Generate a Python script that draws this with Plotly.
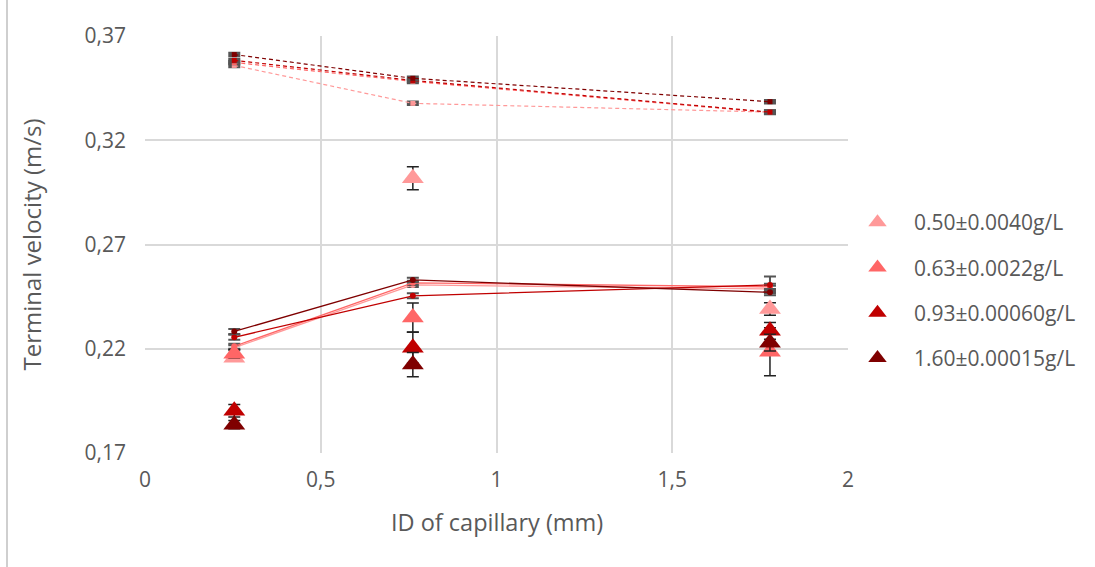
import plotly.graph_objects as go

# ---- data ----
capillary_id = [0.254, 0.762, 1.778]
series_names = ["0.50±0.0040g/L", "0.63±0.0022g/L", "0.93±0.00060g/L", "1.60±0.00015g/L"]
colors = ["#ff9999", "#ff6666", "#c00000", "#7f0000"]

# measured terminal velocity (triangles)
measured = [
    [0.2157, 0.3018, 0.2391],
    [0.2176, 0.2350, 0.2186],
    [0.1903, 0.2205, 0.2286],
    [0.1836, 0.2124, 0.2229],
]
measured_err = [
    [0.0015, 0.0055, 0.0030],
    [0.0020, 0.0070, 0.0115],
    [0.0030, 0.0074, 0.0040],
    [0.0020, 0.0058, 0.0040],
]

# solid-line model values
model_a = [
    [0.2205, 0.2506, 0.2487],
    [0.2212, 0.2516, 0.2497],
    [0.2255, 0.2454, 0.2506],
    [0.2283, 0.2530, 0.2471],
]
model_a_err = [
    [0.0012, 0.0010, 0.0015],
    [0.0012, 0.0010, 0.0015],
    [0.0012, 0.0012, 0.0040],
    [0.0012, 0.0010, 0.0015],
]

# dashed-line model values
model_b = [
    [0.3559, 0.3377, 0.3335],
    [0.3573, 0.3482, 0.3333],
    [0.3583, 0.3487, 0.3335],
    [0.3611, 0.3497, 0.3385],
]
model_b_err = [0.0006, 0.0006, 0.0006]

y_ticks = [0.17, 0.22, 0.27, 0.32, 0.37]
y_ticktext = ["0,17", "0,22", "0,27", "0,32", "0,37"]
x_ticks = [0, 0.5, 1, 1.5, 2]
x_ticktext = ["0", "0,5", "1", "1,5", "2"]
x_title = "ID of capillary (mm)"
y_title = "Terminal velocity (m/s)"

FONT = "Open Sans"
TXT = "#595959"

W, H = 1095, 567
L, R, T, B = 145, 247, 36, 114
PW, PH = W - L - R, H - T - B

fig = go.Figure()

# dashed model lines
for i in range(4):
    fig.add_trace(go.Scatter(
        x=capillary_id, y=model_b[i], mode="lines+markers",
        line=dict(color=colors[i], width=1.2, dash="4px,3px"),
        marker=dict(symbol="square", size=5, color=colors[i]),
        error_y=dict(type="data", array=model_b_err, color="#555555", thickness=3, width=6),
        showlegend=False, hoverinfo="skip"))

# solid model lines
for i in range(4):
    fig.add_trace(go.Scatter(
        x=capillary_id, y=model_a[i], mode="lines+markers",
        line=dict(color=colors[i], width=1.3),
        marker=dict(symbol="circle", size=6, color=colors[i]),
        error_y=dict(type="data", array=model_a_err[i], color="#555555", thickness=2, width=6),
        showlegend=False, hoverinfo="skip"))

# measured triangles
for i in range(4):
    fig.add_trace(go.Scatter(
        x=capillary_id, y=measured[i], mode="markers", name=series_names[i],
        marker=dict(symbol="triangle-up", size=19, color=colors[i]),
        error_y=dict(type="data", array=measured_err[i], color="#222222", thickness=1.5, width=6),
        legendgroup=f"g{i}", showlegend=True))

fig.update_layout(
    width=W, height=H,
    margin=dict(l=L, r=R, t=T, b=B, autoexpand=False),
    paper_bgcolor="white", plot_bgcolor="white",
    font=dict(family=FONT, size=21, color=TXT),
    showlegend=True,
    legend=dict(x=(841 - L) / PW, y=1 - (202 - T) / PH, xanchor="left", yanchor="top",
                font=dict(family=FONT, size=21, color=TXT),
                tracegroupgap=15, itemwidth=63, itemsizing="trace",
                bgcolor="rgba(0,0,0,0)"),
    xaxis=dict(range=[0, 2], tickvals=x_ticks, ticktext=x_ticktext,
               showgrid=True, gridcolor="#d9d9d9", gridwidth=1.5,
               zeroline=False, showline=False, ticks="", automargin=False,
               ticklabelstandoff=12, tickfont=dict(size=21)),
    yaxis=dict(range=[0.17, 0.37], tickvals=y_ticks, ticktext=y_ticktext,
               showgrid=True, gridcolor="#d9d9d9", gridwidth=1.5,
               zeroline=False, showline=False, ticks="", automargin=False,
               ticklabelstandoff=18, tickfont=dict(size=21)),
    annotations=[
        dict(text=x_title, xref="paper", yref="paper", x=0.5, y=-(522 - (T + PH)) / PH,
             xanchor="center", yanchor="middle", showarrow=False,
             font=dict(family=FONT, size=23.5, color=TXT)),
        dict(text=y_title, xref="paper", yref="paper", x=(31 - L) / PW, y=0.5,
             xanchor="center", yanchor="middle", showarrow=False, textangle=-90,
             font=dict(family=FONT, size=24, color=TXT)),
    ],
    shapes=[dict(type="line", xref="paper", yref="paper",
                 x0=(7 - L) / PW, x1=(7 - L) / PW, y0=-0.5, y1=1.5,
                 line=dict(color="#bfbfbf", width=1.5))],
)

fig.write_html("out.html", config={"displayModeBar": False},
               post_script="document.body.style.margin='0';document.body.style.overflow='hidden';")
